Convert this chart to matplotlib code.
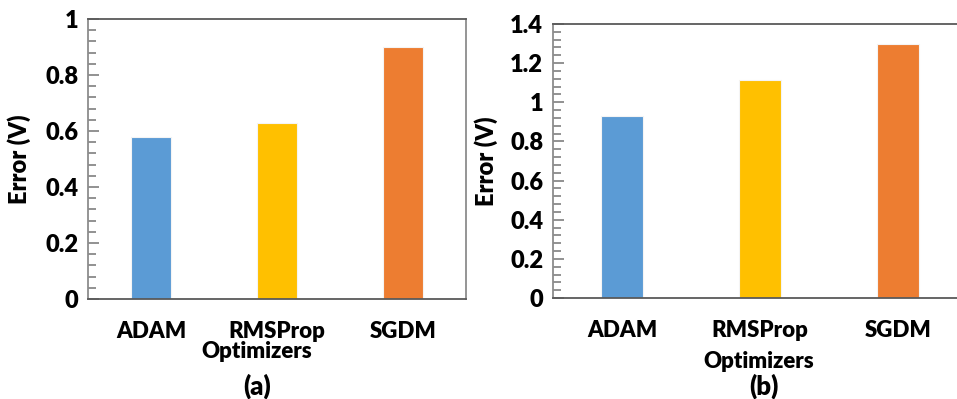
import matplotlib.pyplot as plt
from matplotlib.ticker import MultipleLocator

optimizers = ['ADAM', 'RMSProp', 'SGDM']
colors = ['#5B9BD5', '#FFC000', '#ED7D31']
error_a = [0.58, 0.63, 0.90]
error_b = [0.93, 1.115, 1.30]

plt.rcParams['font.family'] = ['Lato', 'DejaVu Sans']
plt.rcParams['font.weight'] = 'heavy'

fig = plt.figure(figsize=(9.57, 3.99), dpi=100)
W, H = 957, 399


def panel(rect, values, ymax, label, xlab_pos, cap_pos):
	ax = fig.add_axes(rect)
	x = range(len(optimizers))
	ax.bar(x, values, width=0.31, color=colors, edgecolor='#f4f4f4', linewidth=0.8, zorder=2)
	ax.set_xlim(-0.5, 2.5)
	ax.set_ylim(0, ymax)
	ax.set_xticks(list(x))
	ax.set_xticklabels(optimizers, fontsize=16, fontweight='heavy')
	ax.yaxis.set_major_locator(MultipleLocator(0.2))
	ax.yaxis.set_minor_locator(MultipleLocator(0.04))
	ax.yaxis.set_major_formatter(plt.FuncFormatter(lambda v, p: f'{v:g}'))
	ax.tick_params(axis='y', which='major', direction='in', length=8, width=1.2,
				   color='#7f7f7f', labelsize=17, pad=7)
	ax.tick_params(axis='y', which='minor', direction='in', length=6, width=1.2, color='#7f7f7f')
	ax.tick_params(axis='x', direction='in', length=5, width=1.5, color='#44546a', pad=16)
	for t in ax.get_yticklabels():
		t.set_fontweight('heavy')
	for s in ['top', 'bottom']:
		ax.spines[s].set_color('#595959')
		ax.spines[s].set_linewidth(1.3)
	for s in ['left', 'right']:
		ax.spines[s].set_color('#8c8c8c')
		ax.spines[s].set_linewidth(1.3)
	ax.set_ylabel('Error (V)', fontsize=17, fontweight='heavy')
	fig.text(xlab_pos[0] / W, 1 - xlab_pos[1] / H, 'Optimizers', fontsize=16,
			 fontweight='heavy', ha='center', va='center')
	fig.text(cap_pos[0] / W, 1 - cap_pos[1] / H, label, fontsize=18.5,
			 fontweight='heavy', ha='center', va='center')
	return ax


ax1 = panel([88 / W, 1 - 299 / H, 378 / W, 280 / H], error_a, 1.0, '(a)', (257, 351), (257, 386))
ax1.yaxis.set_label_coords(-0.152, 0.5)

ax2 = panel([553 / W, 1 - 298 / H, 414 / W, 274 / H], error_b, 1.4, '(b)', (759, 361), (764, 386))
ax2.yaxis.set_label_coords(-0.134, 0.5)

fig.savefig('out.png', dpi=100)
